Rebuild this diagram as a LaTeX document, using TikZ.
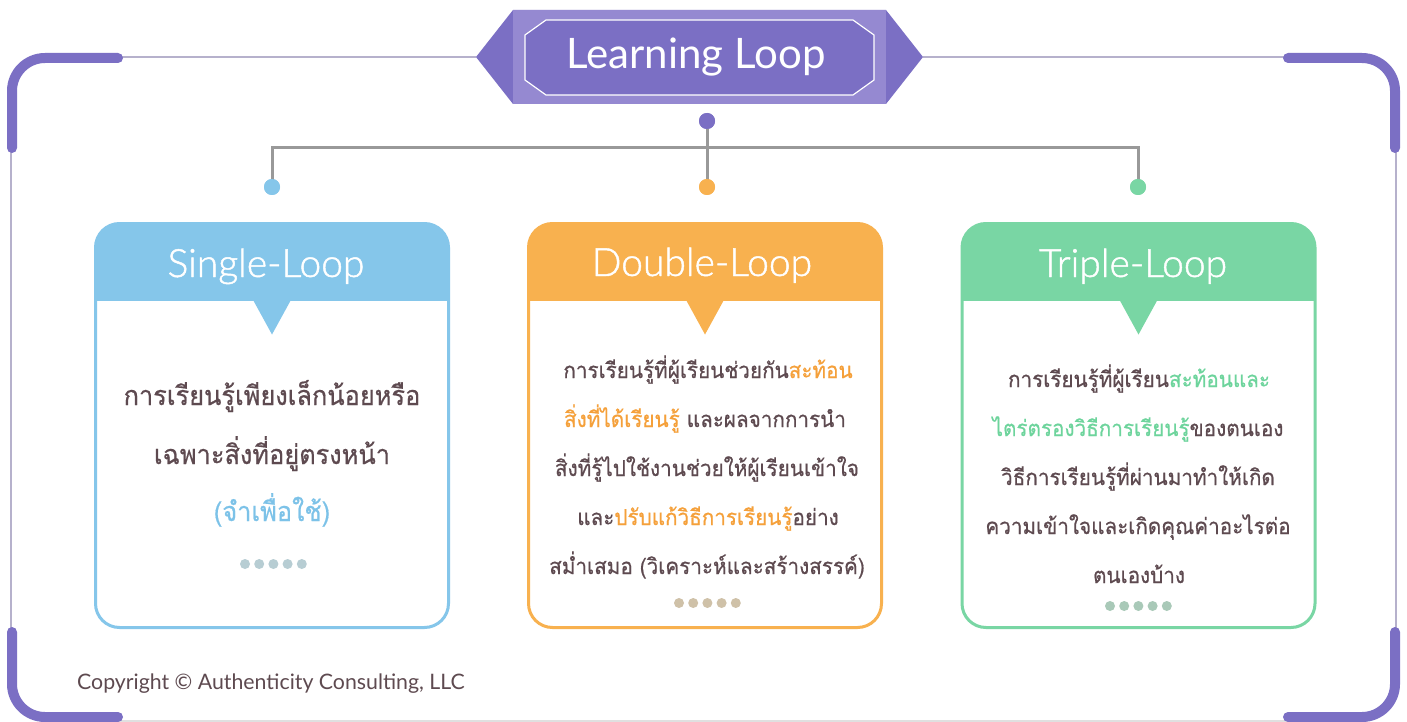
\documentclass[tikz,border=0pt]{standalone}
\usepackage{fontspec}
\setmainfont{Lato}
\newfontfamily\hdrfont[FakeBold=1.2]{Lato Light}
\newfontfamily\thaifont[Script=Thai, FakeStretch=0.94, FakeBold=0.6]{Loma}
\usetikzlibrary{calc}
\definecolor{purp}{HTML}{7B6FC4}
\definecolor{purpl}{HTML}{9589D1}
\definecolor{framec}{HTML}{B6B1CC}
\definecolor{blu}{HTML}{85C6EA}
\definecolor{org}{HTML}{F8B14F}
\definecolor{grn}{HTML}{79D6A4}
\definecolor{txt}{HTML}{5E4A50}
\definecolor{orgt}{HTML}{F5A03A}
\definecolor{grnt}{HTML}{6DD49C}
\definecolor{blut}{HTML}{7CC2E8}
\definecolor{conn}{HTML}{999999}
\definecolor{dotb}{HTML}{B7CDD3}
\definecolor{doto}{HTML}{CFC1A8}
\definecolor{dotg}{HTML}{A9C9B8}
\tikzset{
  bracket/.style={purp, line width=10pt, line cap=round, rounded corners=33pt},
  thinframe/.style={framec, line width=2pt},
  card/.style={draw=#1, line width=3pt, rounded corners=24pt, minimum width=353pt, minimum height=404pt, inner sep=0pt,
    path picture={\fill[#1, sharp corners] (path picture bounding box.north west) rectangle ([yshift=-77.5pt]path picture bounding box.north east);}},
  hdr/.style={text=white, font=\hdrfont\fontsize{39}{42}\selectfont, anchor=base, inner sep=0pt},
  bigthai/.style={text=txt, font=\thaifont\fontsize{27}{32}\selectfont, anchor=base, inner sep=0pt},
  thai/.style={text=txt, font=\thaifont\fontsize{22}{26}\selectfont, anchor=base, inner sep=0pt},
  bdot/.style={circle, fill=#1, minimum size=16pt, inner sep=0pt},
  connector/.style={conn, line width=3pt},
}
\begin{document}
\begin{tikzpicture}[x=1pt,y=-1pt]
\useasboundingbox (0,0) rectangle (1407,722);
\fill[white] (0,0) rectangle (1407,722);
% frame
\draw[thinframe] (118,57) -- (476,57);
\draw[thinframe] (923,57) -- (1288,57);
\draw[thinframe] (11,148) -- (11,632);
\draw[thinframe] (1396,148) -- (1396,632);
\draw[black!12, line width=2pt] (118,721) -- (1288,721);
\draw[bracket] (12,148) -- (12,58) -- (118,58);
\draw[bracket] (12,632) -- (12,717) -- (118,717);
\draw[bracket] (1288,58) -- (1395,58) -- (1395,148);
\draw[bracket] (1288,717) -- (1395,717) -- (1395,632);
% title banner
\fill[purp] (476,57) -- (513,10) -- (886,10) -- (923,57) -- (886,104) -- (513,104) -- cycle;
\fill[purpl] (513,10) rectangle (886,104);
\filldraw[fill=purp, draw=white, line width=1.2pt] (546,20) -- (853,20) -- (874,35) -- (874,80) -- (853,95) -- (546,95) -- (525,80) -- (525,35) -- cycle;
\node[text=white, font=\fontsize{42}{46}\selectfont, anchor=base, inner sep=0pt] (title) at (696,69) {Learning Loop};
% connectors
\node[bdot=purp] (td) at (707,121) {};
\node[bdot=blu] (d1) at (272,187) {};
\node[bdot=org] (d2) at (707,187) {};
\node[bdot=grn] (d3) at (1138,187) {};
\coordinate (bus) at (707,148);
\draw[connector] (d1.center) |- (bus) -| (d3.center);
\draw[connector] (td.center) -- (d2.center);
\node[bdot=blu] at (d1) {};
\node[bdot=org] at (d2) {};
\node[bdot=grn] at (d3) {};
\node[bdot=purp] at (td) {};
% cards
\node[card=blu] (c1) at (272,425.5) {};
\node[card=org] (c2) at (705,425.5) {};
\node[card=grn] (c3) at (1138.5,425.5) {};
\foreach \c/\col in {c1/blu, c2/org, c3/grn}{
  \fill[\col] ($(\c.north)+(-20,76)$) -- ($(\c.north)+(20,76)$) -- ($(\c.north)+(0,112.5)$) -- cycle;
}
\node[hdr] (h1) at (266,277) {Single-Loop};
\node[hdr] (h2) at (702,276) {Double-Loop};
\node[hdr] (h3) at (1133,277) {Triple-Loop};
% single text
\node[bigthai] (s1) at (272,405) {การเรียนรู้เพียงเล็กน้อยหรือ};
\node[bigthai] (s2) at (272,464) {เฉพาะสิ่งที่อยู่ตรงหน้า};
\node[bigthai, text=blut] (s3) at (272,521) {(จำเพื่อใช้)};
% double text
\node[thai] (t1) at (708,378) {การเรียนรู้ที่ผู้เรียนช่วยกัน\textcolor{orgt}{สะท้อน}};
\node[thai] (t2) at (705,427) {\textcolor{orgt}{สิ่งที่ได้เรียนรู้} และผลจากการนำ};
\node[thai] (t3) at (707,476) {สิ่งที่รู้ไปใช้งานช่วยให้ผู้เรียนเข้าใจ};
\node[thai] (t4) at (708,525) {และ\textcolor{orgt}{ปรับแก้วิธีการเรียนรู้}อย่าง};
\node[thai] (t5) at (707,574) {สม่ำเสมอ (วิเคราะห์และสร้างสรรค์)};
% triple text
\node[thai] (u1) at (1139,387) {การเรียนรู้ที่ผู้เรียน\textcolor{grnt}{สะท้อนและ}};
\node[thai] (u2) at (1138,436) {\textcolor{grnt}{ไตร่ตรองวิธีการเรียนรู้}ของตนเอง};
\node[thai] (u3) at (1138,485) {วิธีการเรียนรู้ที่ผ่านมาทำให้เกิด};
\node[thai] (u4) at (1138,534) {ความเข้าใจและเกิดคุณค่าอะไรต่อ};
\node[thai] (u5) at (1139,583) {ตนเองบ้าง};
% dots
\foreach \i in {0,...,4}{
  \fill[dotb] (245+14.2*\i,564) circle (5);
  \fill[doto] (679+14.2*\i,603) circle (5);
  \fill[dotg] (1110+14.2*\i,606) circle (5);
}
% copyright
\node[text=txt, font=\fontsize{21.3}{24}\selectfont, anchor=base west, inner sep=0pt] (copy) at (77,689) {Copyright © Authenticity Consulting, LLC};
\end{tikzpicture}
\end{document}
